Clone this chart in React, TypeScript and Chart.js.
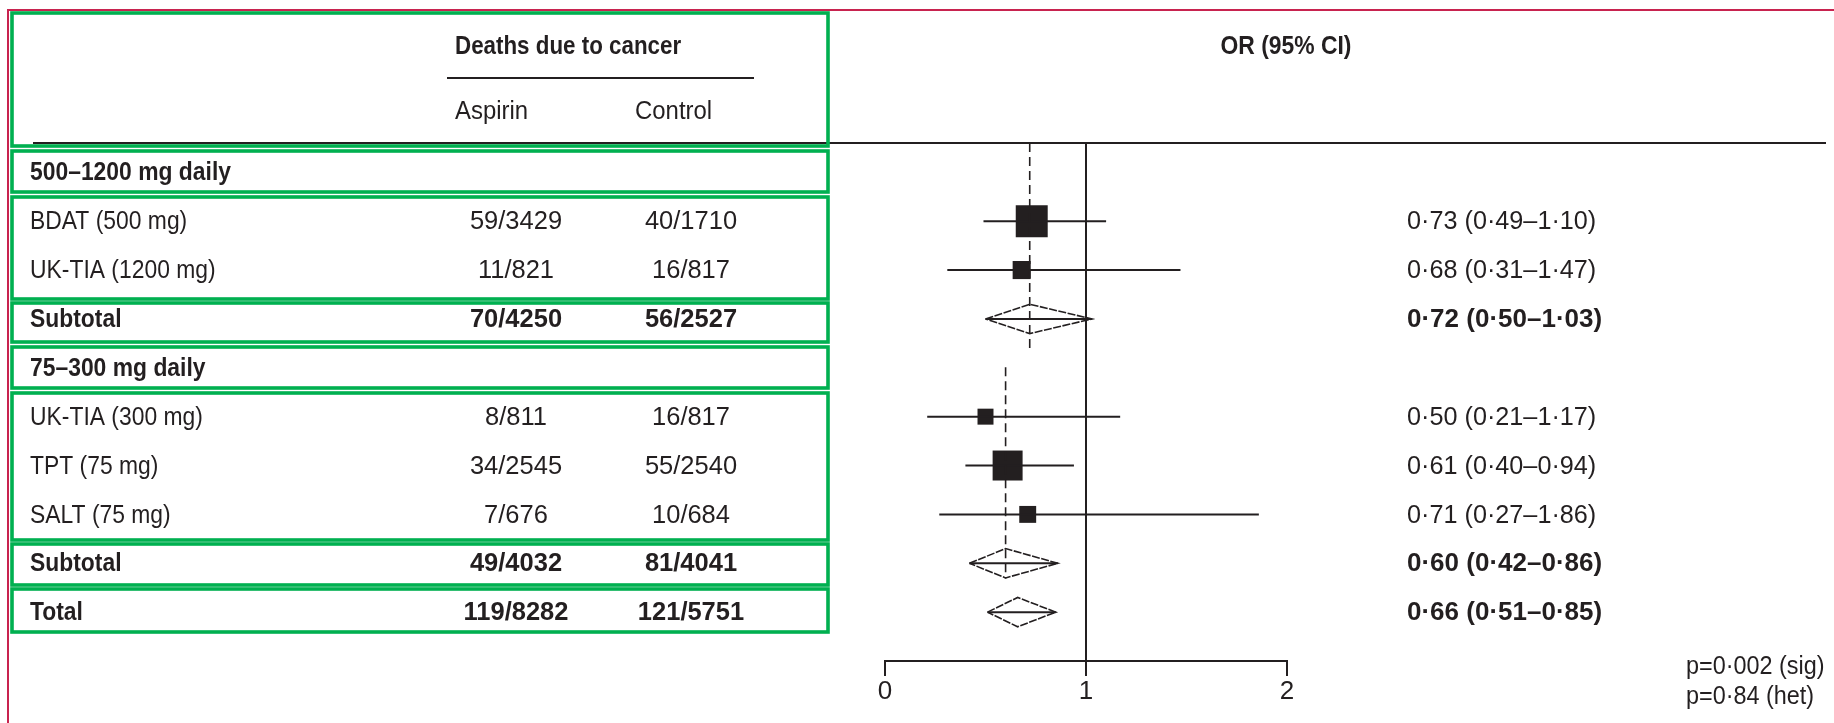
import React, { useEffect, useRef } from 'react';
import { Chart, registerables } from 'chart.js';

Chart.register(...registerables);

// ---------- data ----------
const rowLabels = [
  '500–1200 mg daily',
  'BDAT (500 mg)',
  'UK-TIA (1200 mg)',
  'Subtotal',
  '75–300 mg daily',
  'UK-TIA (300 mg)',
  'TPT (75 mg)',
  'SALT (75 mg)',
  'Subtotal',
  'Total',
];
const rowKinds = ['group', 'study', 'study', 'subtotal', 'group', 'study', 'study', 'study', 'subtotal', 'total'];
const aspirinDeaths = ['', '59/3429', '11/821', '70/4250', '', '8/811', '34/2545', '7/676', '49/4032', '119/8282'];
const controlDeaths = ['', '40/1710', '16/817', '56/2527', '', '16/817', '55/2540', '10/684', '81/4041', '121/5751'];
const oddsRatio = [null, 0.73, 0.68, 0.72, null, 0.5, 0.61, 0.71, 0.6, 0.66];
const ciLower = [null, 0.49, 0.31, 0.5, null, 0.21, 0.4, 0.27, 0.42, 0.51];
const ciUpper = [null, 1.1, 1.47, 1.03, null, 1.17, 0.94, 1.86, 0.86, 0.85];
const studyWeights = [null, 100, 32, null, null, 25, 88, 28, null, null];
const xTickValues = [0, 1, 2];
const columnHeaders = ['Deaths due to cancer', 'Aspirin', 'Control', 'OR (95% CI)'];
const pValueLabels = ['p=0·002 (sig)', 'p=0·84 (het)'];

// ---------- style ----------
const FONT = "'Liberation Sans', Arial, sans-serif";
const FS = 26;
const INK = '#231f20';
const GREEN = '#00b050';
const FRAME = '#c8234f';
const Y_MIN = -0.6;
const Y_MAX = 10.0;

const fmt = (v: number) => v.toFixed(2).replace('.', '\u00b7');

function drawText(ctx: any, text: string, x: number, y: number, align: string, bold: boolean, k: number) {
  ctx.save();
  ctx.font = `${bold ? 'bold ' : ''}${FS}px ${FONT}`;
  ctx.fillStyle = INK;
  ctx.translate(x, y);
  ctx.scale(k, 1);
  ctx.textAlign = align;
  ctx.textBaseline = 'middle';
  ctx.fillText(text, 0, 0);
  ctx.restore();
}

const overlayPlugin = {
  id: 'forestOverlay',
  afterDraw(chart: any) {
    const { ctx, chartArea, scales } = chart;
    const ys = scales.y;
    ctx.save();

    // frame (red)
    ctx.strokeStyle = FRAME;
    ctx.lineWidth = 2;
    ctx.beginPath();
    ctx.moveTo(1834, 10);
    ctx.lineTo(8, 10);
    ctx.lineTo(8, 723);
    ctx.stroke();

    // header rules
    ctx.strokeStyle = INK;
    ctx.lineWidth = 2;
    ctx.beginPath();
    ctx.moveTo(33, chartArea.top);
    ctx.lineTo(1826, chartArea.top);
    ctx.moveTo(447, 78);
    ctx.lineTo(754, 78);
    ctx.stroke();

    // header text
    drawText(ctx, columnHeaders[0], 455, 47, 'left', true, 0.86);
    drawText(ctx, columnHeaders[3], 1286, 47, 'center', true, 0.88);
    drawText(ctx, columnHeaders[1], 455, 112, 'left', false, 0.92);
    drawText(ctx, columnHeaders[2], 635, 112, 'left', false, 0.92);

    // rows
    rowLabels.forEach((label, i) => {
      const y = ys.getPixelForValue(i) + 1;
      const bold = rowKinds[i] !== 'study';
      drawText(ctx, label, 30, y, 'left', bold, 0.88);
      if (aspirinDeaths[i]) drawText(ctx, aspirinDeaths[i], 516, y, 'center', bold, 0.98);
      if (controlDeaths[i]) drawText(ctx, controlDeaths[i], 691, y, 'center', bold, 0.98);
      if (oddsRatio[i] != null) {
        const txt = `${fmt(oddsRatio[i] as number)} (${fmt(ciLower[i] as number)}–${fmt(ciUpper[i] as number)})`;
        drawText(ctx, txt, 1407, y, 'left', bold, bold ? 1.0 : 0.97);
      }
    });

    // p values
    drawText(ctx, pValueLabels[0], 1686, 667, 'left', false, 0.9);
    drawText(ctx, pValueLabels[1], 1686, 697, 'left', false, 0.9);

    // green annotation boxes
    const boxes = [
      [13, 146], [151, 192], [197, 299], [303, 342],
      [347, 388], [393, 540], [544, 585], [589, 632],
    ];
    ctx.strokeStyle = GREEN;
    ctx.lineWidth = 3.6;
    boxes.forEach(([t, b]) => {
      ctx.strokeRect(12, t, 816, b - t);
    });

    ctx.restore();
  },
};

export default function App() {
  const ref = useRef<HTMLCanvasElement>(null);

  useEffect(() => {
    if (!ref.current) return;
    const datasets: any[] = [];
    const line = (pts: any[], extra: any = {}) => ({
      data: pts,
      showLine: true,
      borderColor: INK,
      borderWidth: 2,
      pointRadius: 0,
      fill: false,
      clip: false,
      ...extra,
    });

    // line of no effect
    datasets.push(line([{ x: 1, y: Y_MIN }, { x: 1, y: Y_MAX }]));

    // pooled estimate dashed lines
    const dashSpans = [[Y_MIN, 3.64], [3.99, 8.31]];
    [3, 8].forEach((row, k) => {
      const v = oddsRatio[row] as number;
      datasets.push(line([{ x: v, y: dashSpans[k][0] }, { x: v, y: dashSpans[k][1] }], { borderDash: [9, 5], borderWidth: 1.6 }));
    });

    // CIs and diamonds
    const h = 0.3;
    rowKinds.forEach((kind, i) => {
      if (kind === 'study') {
        datasets.push(line([{ x: ciLower[i], y: i }, { x: ciUpper[i], y: i }]));
      } else if (kind === 'subtotal' || kind === 'total') {
        datasets.push(
          line(
            [
              { x: ciLower[i], y: i },
              { x: oddsRatio[i], y: i - h },
              { x: ciUpper[i], y: i },
              { x: oddsRatio[i], y: i + h },
              { x: ciLower[i], y: i },
            ],
            { borderWidth: 1.6, borderDash: [8, 1.5] }
          )
        );
        datasets.push(line([{ x: ciLower[i], y: i }, { x: ciUpper[i], y: i }]));
      }
    });

    // weighted squares
    const studyRows = rowKinds.map((k, i) => (k === 'study' ? i : -1)).filter((i) => i >= 0);
    datasets.push({
      data: studyRows.map((i) => ({ x: oddsRatio[i], y: i })),
      pointStyle: 'rect',
      pointRadius: studyRows.map((i) => 22.6 * Math.sqrt((studyWeights[i] as number) / 100)),
      backgroundColor: INK,
      borderColor: INK,
      borderWidth: 0,
      showLine: false,
      clip: false,
    });

    const chart = new Chart(ref.current, {
      type: 'scatter',
      data: { datasets },
      options: {
        animation: false,
        responsive: true,
        maintainAspectRatio: false,
        layout: { padding: { left: 885, right: 547, top: 143, bottom: 15.8 } },
        plugins: { legend: { display: false }, tooltip: { enabled: false }, title: { display: false } },
        scales: {
          x: {
            type: 'linear',
            min: 0,
            max: 2,
            position: 'bottom',
            afterBuildTicks: (s: any) => {
              s.ticks = xTickValues.map((v) => ({ value: v }));
            },
            ticks: { color: INK, font: { family: FONT, size: FS }, padding: 0, maxRotation: 0, autoSkip: false },
            grid: { drawOnChartArea: false, drawTicks: true, tickLength: 15, color: INK, lineWidth: 2 },
            border: { display: true, color: INK, width: 2 },
          },
          y: { type: 'linear', min: Y_MIN, max: Y_MAX, reverse: true, display: false },
        },
      },
      plugins: [overlayPlugin],
    } as any);

    return () => chart.destroy();
  }, []);

  return (
    <div style={{ position: 'absolute', left: 0, top: 0, width: 1834, height: 723, background: '#fff' }}>
      <canvas ref={ref} />
    </div>
  );
}
